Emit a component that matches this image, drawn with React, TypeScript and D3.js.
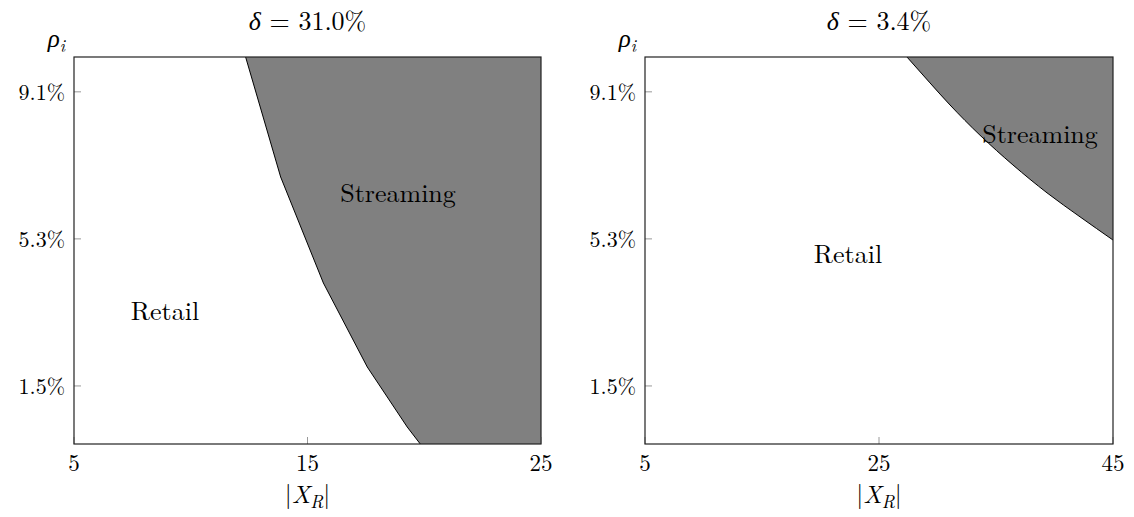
import React from "react";
import * as d3 from "d3";

// Panel A (delta = 31.0%)
const leftTitle = "31.0%";
const leftXTicks = [5, 15, 25];
const leftBoundaryX = [12.35, 13.85, 15.68, 17.56, 19.27, 19.83];
const leftBoundaryRho = [10.0, 6.9, 4.16, 1.99, 0.44, 0.0];

// Panel B (delta = 3.4%)
const rightTitle = "3.4%";
const rightXTicks = [5, 25, 45];
const rightBoundaryX = [27.39, 29.36, 31.07, 33.63, 36.45, 39.36, 42.18, 45.0];
const rightBoundaryRho = [10.0, 9.33, 8.76, 7.98, 7.21, 6.49, 5.87, 5.27];

const yTicks = [1.5, 5.3, 9.1];
const yTickLabels = ["1.5%", "5.3%", "9.1%"];
const rhoDomain = [0, 10];

const FONT = "'Latin Modern Roman', 'CMU Serif', 'Liberation Serif', serif";

type PanelProps = {
  x0: number;
  x1: number;
  xDomain: [number, number];
  xTicks: number[];
  bx: number[];
  brho: number[];
  smooth: boolean;
  title: string;
  streamingPos: [number, number];
  retailPos: [number, number];
};

const TOP = 57;
const BOTTOM = 444;

function Panel(p: PanelProps) {
  const x = d3.scaleLinear().domain(p.xDomain).range([p.x0, p.x1]);
  const y = d3.scaleLinear().domain(rhoDomain).range([BOTTOM, TOP]);
  const pts: [number, number][] = p.bx.map((v, i) => [v, p.brho[i]]);
  const line = d3
    .line<[number, number]>()
    .x((d) => x(d[0]))
    .y((d) => y(d[1]))
    .curve(p.smooth ? d3.curveMonotoneX : d3.curveLinear);
  const boundary = line(pts) || "";
  const last = pts[pts.length - 1];
  const first = pts[0];
  const xMax = p.xDomain[1];
  const poly =
    boundary +
    (last[1] > rhoDomain[0] ? "" : `L${x(xMax)},${y(rhoDomain[0])}`) +
    `L${x(xMax)},${y(rhoDomain[1])}L${x(first[0])},${y(first[1])}Z`;
  const cx = (p.x0 + p.x1) / 2;
  return (
    <g>
      <rect x={p.x0} y={TOP} width={p.x1 - p.x0} height={BOTTOM - TOP} fill="#fff" />
      <path d={poly} fill="#808080" stroke="none" />
      <path d={boundary} fill="none" stroke="#000" strokeWidth={1} />
      {yTicks.map((t, i) => (
        <g key={"y" + i}>
          <line x1={p.x0} x2={p.x0 + 7} y1={y(t)} y2={y(t)} stroke="#999" strokeWidth={1} />
          <text x={p.x0 - 9} y={y(t) + 8} textAnchor="end" fontSize={22} fontFamily={FONT}>
            {yTickLabels[i]}
          </text>
        </g>
      ))}
      {p.xTicks.map((t, i) => (
        <g key={"x" + i}>
          <line x1={x(t)} x2={x(t)} y1={BOTTOM} y2={BOTTOM - 7} stroke="#999" strokeWidth={1} />
          <text x={x(t)} y={BOTTOM + 27} textAnchor="middle" fontSize={23} fontFamily={FONT}>
            {t}
          </text>
        </g>
      ))}
      <rect
        x={p.x0}
        y={TOP}
        width={p.x1 - p.x0}
        height={BOTTOM - TOP}
        fill="none"
        stroke="#222"
        strokeWidth={1.2}
      />
      <text x={p.x0 - 9} y={TOP - 10} textAnchor="end" fontSize={25} fontFamily={FONT}>
        <tspan fontStyle="italic">ρ</tspan>
        <tspan fontStyle="italic" fontSize={17} dy={5}>i</tspan>
      </text>
      <text x={cx} y={BOTTOM + 59} textAnchor="middle" fontSize={25} fontFamily={FONT}>
        <tspan>|</tspan>
        <tspan fontStyle="italic">X</tspan>
        <tspan fontStyle="italic" fontSize={18} dy={5}>R</tspan>
        <tspan dy={-5}>|</tspan>
      </text>
      <text x={cx} y={30} textAnchor="middle" fontSize={26} fontFamily={FONT}>
        <tspan fontStyle="italic">δ</tspan>
        <tspan> = {p.title}</tspan>
      </text>
      <text
        x={p.streamingPos[0]}
        y={p.streamingPos[1]}
        textAnchor="middle"
        dominantBaseline="central"
        fontSize={26}
        fontFamily={FONT}
      >
        Streaming
      </text>
      <text
        x={p.retailPos[0]}
        y={p.retailPos[1]}
        textAnchor="middle"
        dominantBaseline="central"
        fontSize={26}
        fontFamily={FONT}
      >
        Retail
      </text>
    </g>
  );
}

export default function App() {
  return (
    <svg
      width={1134}
      height={517}
      style={{ position: "absolute", left: 0, top: 0, background: "#fff" }}
    >
      <rect width={1134} height={517} fill="#fff" />
      <Panel
        x0={74}
        x1={541}
        xDomain={[5, 25]}
        xTicks={leftXTicks}
        bx={leftBoundaryX}
        brho={leftBoundaryRho}
        smooth={false}
        title={leftTitle}
        streamingPos={[398, 191]}
        retailPos={[165, 309]}
      />
      <Panel
        x0={645}
        x1={1113}
        xDomain={[5, 45]}
        xTicks={rightXTicks}
        bx={rightBoundaryX}
        brho={rightBoundaryRho}
        smooth={true}
        title={rightTitle}
        streamingPos={[1040, 132]}
        retailPos={[848, 252]}
      />
    </svg>
  );
}
